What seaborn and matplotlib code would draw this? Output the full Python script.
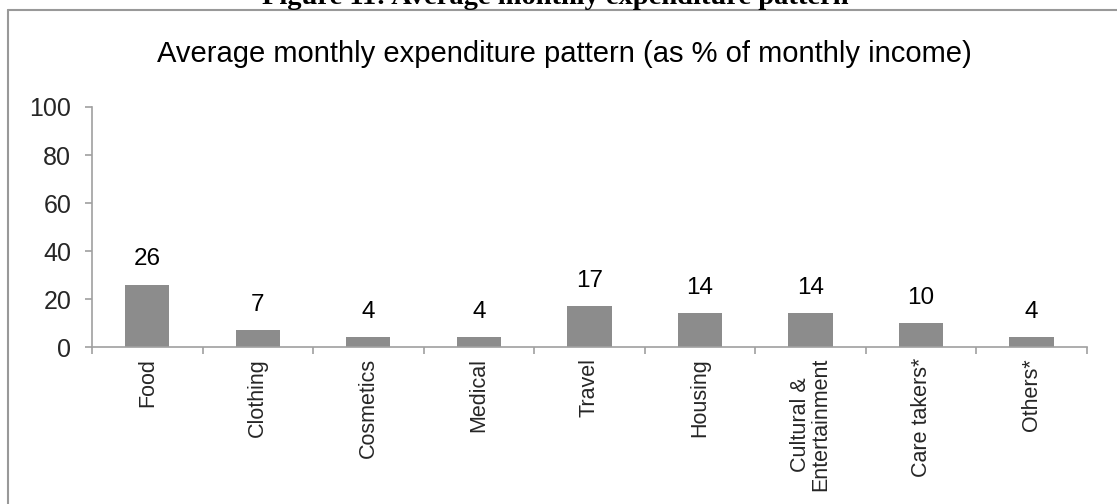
import numpy as np
import pandas as pd
import matplotlib
matplotlib.use("Agg")
import matplotlib.pyplot as plt
from matplotlib.lines import Line2D
import seaborn as sns

# data
categories = ["Food", "Clothing", "Cosmetics", "Medical", "Travel", "Housing",
              "Cultural &\nEntertainment", "Care takers*", "Others*"]
values = [26, 7, 4, 4, 17, 14, 14, 10, 4]
y_ticks = [0, 20, 40, 60, 80, 100]

df = pd.DataFrame({"category": categories, "pct": values})

sns.set_style("white")
plt.rcParams['font.family'] = ['Liberation Sans', 'DejaVu Sans']

fig = plt.figure(figsize=(11.17, 5.04), dpi=100)
ax = fig.add_axes([0.0824, 0.3115, 0.973 - 0.0824, 0.7877 - 0.3115])

sns.barplot(data=df, x="category", y="pct", color="#8c8c8c", width=0.40,
            saturation=1, ax=ax, edgecolor="#8c8c8c", linewidth=0)

# value labels on top of each bar
for i, v in enumerate(values):
    ax.annotate(str(v), (i, v), xytext=(0, 14), textcoords="offset points",
                ha="center", va="baseline", fontsize=17.5, color="black")

axis_col = "#a0a0a0"
ax.set_ylim(0, 100)
ax.set_xlim(-0.5, len(categories) - 0.5)
ax.set_yticks(y_ticks)
ax.set_yticklabels([str(t) for t in y_ticks], fontsize=18)
ax.tick_params(axis="y", length=5, width=1.2, color=axis_col, pad=10, left=True)

# ticks at category boundaries, labels at category centres
ax.set_xticks(np.arange(-0.5, len(categories), 1.0))
ax.set_xticklabels([])
ax.set_xticks(np.arange(len(categories)), minor=True)
ax.set_xticklabels(categories, minor=True, rotation=90, fontsize=15.5,
                   va="top", ha="center", linespacing=0.95)
ax.tick_params(axis="x", which="major", length=5, width=1.2, color=axis_col, bottom=True)
ax.tick_params(axis="x", which="minor", length=0, pad=8)

for s in ["top", "right"]:
    ax.spines[s].set_visible(False)
for s in ["left", "bottom"]:
    ax.spines[s].set_color(axis_col)
    ax.spines[s].set_linewidth(1.2)

ax.set_xlabel("")
ax.set_ylabel("")

fig.text(0.505, 1 - 62 / 504, "Average monthly expenditure pattern (as % of monthly income)",
         ha="center", va="baseline", fontsize=21, color="black")

# outer chart frame (left and top edges visible)
fx = 7.5 / 1117
fy = 1 - 9.5 / 504
fig.add_artist(Line2D([fx, 1.0], [fy, fy], color="#999999", lw=1.5, transform=fig.transFigure))
fig.add_artist(Line2D([fx, fx], [0, fy], color="#999999", lw=1.5, transform=fig.transFigure))

# cut-off document heading above the chart
fig.text(0.497, 1 - 4 / 504, "Figure 11: Average monthly expenditure pattern",
         ha="center", va="baseline", fontsize=20.5, fontweight="bold",
         family=["Liberation Serif", "DejaVu Serif"], color="black")

fig.savefig("out.png", dpi=100)
